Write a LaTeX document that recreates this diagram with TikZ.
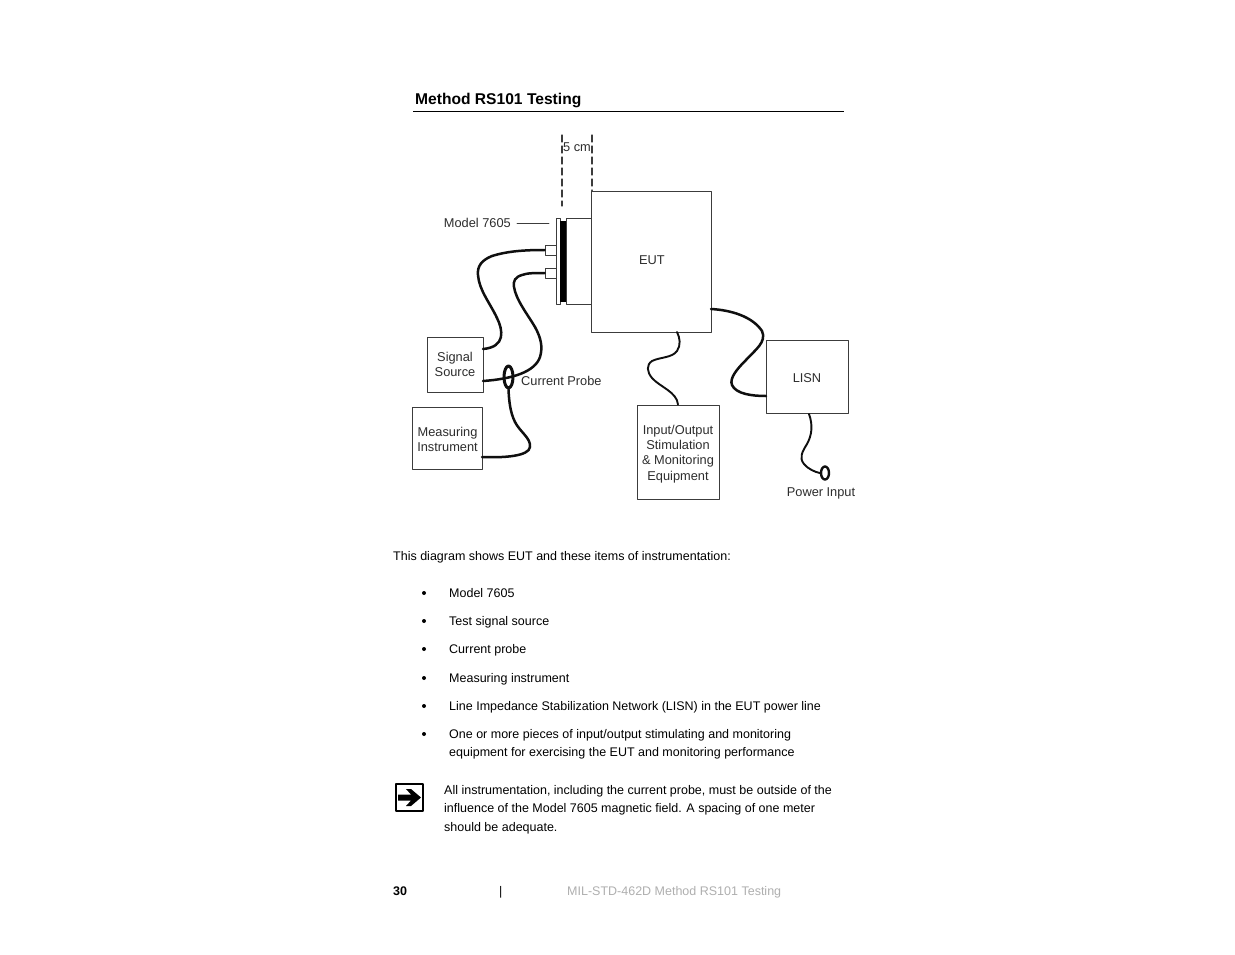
\documentclass[tikz,border=0pt]{standalone}
\usepackage{fontspec}
\usetikzlibrary{shapes.geometric}
\setmainfont{Liberation Sans}
\definecolor{cableblack}{RGB}{15,15,15}
\definecolor{framegray}{RGB}{60,60,60}
\definecolor{labelgray}{RGB}{45,45,45}
\definecolor{footergray}{RGB}{175,175,175}
\tikzset{
  instrbox/.style={draw=framegray,line width=0.9pt,fill=white,inner sep=0pt,align=center,font=\fontsize{12.8}{15.3}\selectfont,text=labelgray},
  cable/.style={draw=cableblack,line width=2.5pt},
  thincable/.style={draw=cableblack,line width=1.9pt},
  plug/.style={draw=framegray,line width=0.8pt,fill=white,minimum width=11pt,minimum height=10pt,inner sep=0pt},
  difflabel/.style={font=\fontsize{12.8}{15.3}\selectfont,text=labelgray,inner sep=0pt,align=center},
  pagetext/.style={font=\fontsize{12.5}{15}\selectfont,anchor=base west,inner sep=0pt},
  dashline/.style={draw=framegray,line width=1.1pt,dash pattern=on 7pt off 4pt}
}
\begin{document}
\begin{tikzpicture}[x=1pt,y=-1pt,line cap=round,line join=round]
        \useasboundingbox (0,0) rectangle (1235,954);
        \fill[white] (0,0) rectangle (1235,954);

        % Heading
        \node[font=\fontsize{15.6}{18}\selectfont\bfseries,anchor=base west,inner sep=0pt] (heading) at (415,104) {Method RS101 Testing};
        \coordinate (ruleleft) at (413,111);
        \coordinate (ruleright) at (844,111);
        \draw[line width=0.9pt,line cap=butt] (ruleleft) -- (ruleright);

        % EUT and field source
        \node[instrbox,minimum width=120pt,minimum height=141pt] (eut) at (651,261.5) {};
        \node[difflabel] (eutlabel) at (652,260) {EUT};
        \node[instrbox,minimum width=25pt,minimum height=86pt] (collar) at (578.5,261) {};
        \node[draw=framegray,fill=white,line width=0.8pt,minimum width=4pt,minimum height=86pt,inner sep=0pt] (flange) at (558,261) {};
        \node[fill=black,minimum width=6.5pt,minimum height=81pt,inner sep=0pt] (coil) at (563,261) {};
        \node[plug] (plugtop) at (550.5,250) {};
        \node[plug] (plugbot) at (550.5,273) {};

        % 5 cm spacing
        \coordinate (dashatop) at (562,135);
        \coordinate (dashabot) at (562,206);
        \coordinate (dashbtop) at (592,135);
        \draw[dashline] (dashatop) -- (dashabot);
        \draw[dashline] (dashbtop) -- (eut.north west -| dashbtop);
        \node[difflabel] (gap) at (577,147) {5 cm};

        % Model label
        \node[difflabel,anchor=east] (modellabel) at (511,223) {Model 7605};
        \coordinate (modeltick) at (549,223);
        \draw[draw=framegray,line width=0.8pt] (modellabel.east) ++(6,0) -- (modeltick);

        % Instruments
        \node[instrbox,minimum width=56pt,minimum height=55pt] (signal) at (455,364.5) {Signal\\Source};
        \node[instrbox,minimum width=70pt,minimum height=62pt] (measuring) at (447.5,438) {};
        \node[difflabel] (measuringlabel) at (447.5,439.5) {Measuring\\Instrument};
        \node[instrbox,minimum width=82pt,minimum height=94pt] (inout) at (678,452) {};
        \node[difflabel] (inoutlabel) at (678,454) {Input/Output\\Stimulation\\\& Monitoring\\Equipment};
        \node[instrbox,minimum width=82pt,minimum height=73pt] (lisn) at (807,377) {};
        \node[difflabel] (lisnlabel) at (807,378) {LISN};

        % Cables
        \coordinate (signalup) at (483,349);
        \coordinate (signaldown) at (483,381);
        \coordinate (measout) at (482,457);
        \coordinate (eutout) at (711,309);
        \coordinate (eutbase) at (677,332);
        \coordinate (lisnin) at (766,396);
        \coordinate (lisnbase) at (809,414);
        \draw[cable] (plugtop.west) .. controls (525,250) and (508,251) .. (492,256) .. controls (482,260) and (477,266) .. (478,275) .. controls (479,290) and (490,303) .. (497,318) .. controls (503,330) and (506,347) .. (signalup);
        \draw[cable] (plugbot.west) .. controls (535,273) and (527,273) .. (522,275) .. controls (515,277) and (513,281) .. (514,287) .. controls (516,300) and (528,315) .. (535,327) .. controls (541,338) and (543,347) .. (540,357) .. controls (535,372) and (512,379) .. (signaldown);
        \node[draw=cableblack,line width=3pt,ellipse,minimum width=9pt,minimum height=22pt,inner sep=0pt] (probe) at (508.5,377) {};
        \draw[cable] (probe.south) .. controls (509,400) and (510,412) .. (515,422) .. controls (520,432) and (531,438) .. (530,447) .. controls (529,456) and (505,458) .. (measout);
        \node[difflabel,anchor=west] (probelabel) at (521,381) {Current Probe};
        \draw[thincable] (eutbase) .. controls (680,338) and (681,345) .. (677,351) .. controls (672,358) and (660,357) .. (652,361) .. controls (646,365) and (647,372) .. (652,378) .. controls (660,387) and (677,392) .. (inout.north);
        \draw[cable] (eutout) .. controls (730,310) and (752,316) .. (762,331) .. controls (767,342) and (755,350) .. (746,360) .. controls (738,368) and (729,378) .. (732,385) .. controls (736,394) and (752,396) .. (lisnin);
        \node[draw=cableblack,line width=2.4pt,ellipse,minimum width=8pt,minimum height=13pt,inner sep=0pt] (powerplug) at (825,473) {};
        \draw[thincable] (lisnbase) .. controls (813,425) and (812,435) .. (807,444) .. controls (802,452) and (799,458) .. (804,464) .. controls (808,469) and (815,472) .. (powerplug.west);
        \node[difflabel] (powerlabel) at (821,493) {Power Input};

        % Page text
        \node[pagetext] (intro) at (393,560) {This diagram shows EUT and these items of instrumentation:};
        \foreach \liney/\linetext [count=\i] in {597/Model 7605,625/Test signal source,653/Current probe,682/Measuring instrument,710/Line Impedance Stabilization Network (LISN) in the EUT power line,738/{One or more pieces of input/output stimulating and monitoring}} {
          \node[pagetext] (item\i) at (449,\liney) {\linetext};
          \fill (424,\liney-4) circle (2pt);
        }
        \node[pagetext] (itemcont) at (449,756) {equipment for exercising the EUT and monitoring performance};

        % Note
        \node[draw,line width=1.1pt,minimum width=27pt,minimum height=27pt,inner sep=0pt] (noteicon) at (409.5,797.5) {};
        \fill (398,794.5) -- (411,794.5) -- (406,789) -- (411,789) -- (421,797.5) -- (411,806) -- (406,806) -- (411,800.5) -- (398,800.5) -- cycle;
        \node[pagetext] (noteone) at (444,794) {All instrumentation, including the current probe, must be outside of the};
        \node[pagetext] (notetwo) at (444,812) {influence of the Model 7605 magnetic field. A spacing of one meter};
        \node[pagetext] (notethree) at (444,831) {should be adequate.};

        % Footer
        \node[pagetext,font=\fontsize{12.5}{15}\selectfont\bfseries] (pagenum) at (393,895) {30};
        \node[pagetext] (pagebar) at (499,895) {|};
        \node[pagetext,text=footergray] (footer) at (567,895) {MIL-STD-462D Method RS101 Testing};
\end{tikzpicture}
\end{document}
